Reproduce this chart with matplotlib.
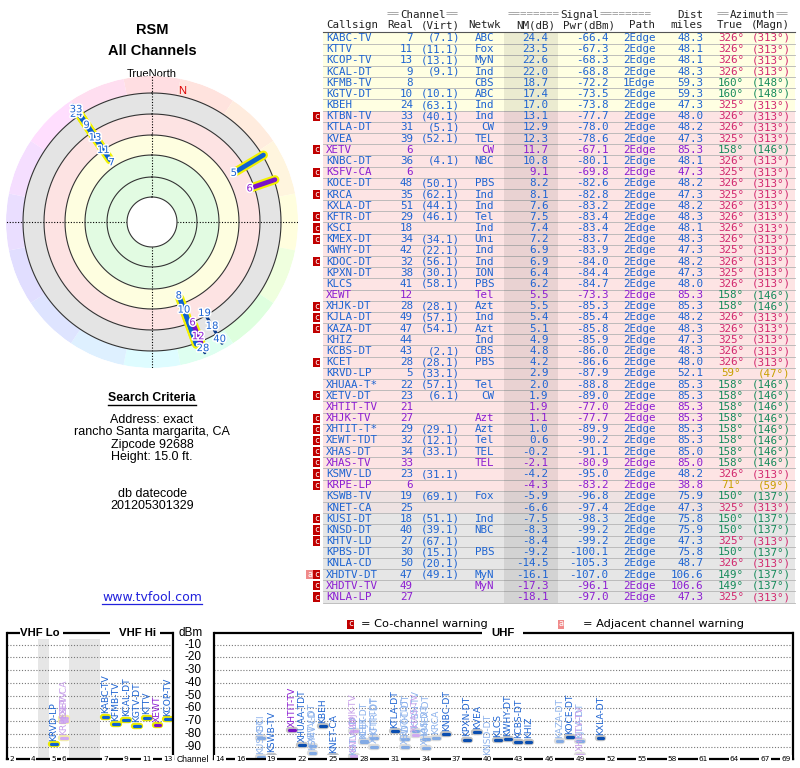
import colorsys
import numpy as np
import matplotlib
matplotlib.use('Agg')
import matplotlib.pyplot as plt
import matplotlib.patheffects as pe
from matplotlib.patches import Rectangle
from matplotlib.transforms import blended_transform_factory

# ---- station table ----
callsigns = ['KABC-TV', 'KTTV', 'KCOP-TV', 'KCAL-DT', 'KFMB-TV', 'KGTV-DT', 'KBEH',
             'KTBN-TV', 'KTLA-DT', 'KVEA', 'XETV', 'KNBC-DT', 'KSFV-CA', 'KOCE-DT',
             'KRCA', 'KXLA-DT', 'KFTR-DT', 'KSCI', 'KMEX-DT', 'KWHY-DT', 'KDOC-DT',
             'KPXN-DT', 'KLCS', 'XEWT', 'XHJK-DT', 'KJLA-DT', 'KAZA-DT', 'KHIZ',
             'KCBS-DT', 'KCET', 'KRVD-LP', 'XHUAA-TDT', 'XETV-DT', 'XHTIT-TV',
             'XHJK-TV', 'XHTIT-TDT', 'XEWT-TDT', 'XHAS-DT', 'XHAS-TV', 'KSMV-LD',
             'KRPE-LP', 'KSWB-TV', 'KNET-CA', 'KUSI-DT', 'KNSD-DT', 'KHTV-LD',
             'KPBS-DT', 'KNLA-CD', 'XHDTV-DT', 'XHDTV-TV', 'KNLA-LP']
real_ch = [7, 11, 13, 9, 8, 10, 24, 33, 31, 39, 6, 36, 6, 48, 35, 51, 29, 18, 34, 42,
           32, 38, 41, 12, 28, 49, 47, 44, 43, 28, 5, 22, 23, 21, 27, 29, 32, 34, 33,
           23, 6, 19, 25, 18, 40, 27, 30, 50, 47, 49, 27]
virt_ch = ['7.1', '11.1', '13.1', '9.1', '', '10.1', '63.1', '40.1', '5.1', '52.1', '',
           '4.1', '', '50.1', '62.1', '44.1', '46.1', '', '34.1', '22.1', '56.1', '30.1',
           '58.1', '', '28.1', '57.1', '54.1', '', '2.1', '28.1', '33.1', '57.1', '6.1',
           '', '', '29.1', '12.1', '33.1', '', '31.1', '', '69.1', '', '51.1', '39.1',
           '67.1', '15.1', '20.1', '49.1', '', '']
networks = ['ABC', 'Fox', 'MyN', 'Ind', 'CBS', 'ABC', 'Ind', 'Ind', 'CW', 'TEL', 'CW',
            'NBC', '', 'PBS', 'Ind', 'Ind', 'Tel', 'Ind', 'Uni', 'Ind', 'Ind', 'ION',
            'PBS', 'Tel', 'Azt', 'Ind', 'Azt', 'Ind', 'CBS', 'PBS', '', 'Tel', 'CW', '',
            'Azt', 'Azt', 'Tel', 'TEL', 'TEL', '', '', 'Fox', '', 'Ind', 'NBC', '', 'PBS',
            '', 'MyN', 'MyN', '']
nm_db = [24.4, 23.5, 22.6, 22.0, 18.7, 17.4, 17.0, 13.1, 12.9, 12.3, 11.7, 10.8, 9.1,
         8.2, 8.1, 7.6, 7.5, 7.4, 7.2, 6.9, 6.9, 6.4, 6.2, 5.5, 5.5, 5.4, 5.1, 4.9, 4.8,
         4.2, 2.9, 2.0, 1.9, 1.9, 1.1, 1.0, 0.6, -0.2, -2.1, -4.2, -4.3, -5.9, -6.6,
         -7.5, -8.3, -8.4, -9.2, -14.5, -16.1, -17.3, -18.1]
pwr_dbm = [-66.4, -67.3, -68.3, -68.8, -72.2, -73.5, -73.8, -77.7, -78.0, -78.6, -67.1,
           -80.1, -69.8, -82.6, -82.8, -83.2, -83.4, -83.4, -83.7, -83.9, -84.0, -84.4,
           -84.7, -73.3, -85.3, -85.4, -85.8, -85.9, -86.0, -86.6, -87.9, -88.8, -89.0,
           -77.0, -77.7, -89.9, -90.2, -91.1, -80.9, -95.0, -83.2, -96.8, -97.4, -98.3,
           -99.2, -99.2, -100.1, -105.3, -107.0, -96.1, -97.0]
paths = ['2Edge'] * 4 + ['1Edge'] + ['2Edge'] * 46
dist_mi = [48.3, 48.1, 48.1, 48.3, 59.3, 59.3, 47.3, 48.0, 48.2, 47.3, 85.3, 48.1, 47.3,
           48.2, 47.3, 48.2, 48.3, 48.1, 48.3, 47.3, 48.2, 47.3, 48.0, 85.3, 85.3, 48.2,
           48.3, 47.3, 48.3, 48.0, 52.1, 85.3, 85.3, 85.3, 85.3, 85.3, 85.3, 85.0, 85.0,
           48.2, 38.8, 75.9, 47.3, 75.8, 75.9, 47.3, 75.8, 48.7, 106.6, 106.6, 47.3]
az_true = [326, 326, 326, 326, 160, 160, 325, 326, 326, 325, 158, 326, 325, 326, 325,
           326, 326, 326, 326, 325, 326, 325, 326, 158, 158, 326, 326, 325, 326, 326, 59,
           158, 158, 158, 158, 158, 158, 158, 158, 326, 71, 150, 325, 150, 150, 325, 150,
           326, 149, 149, 325]
az_magn = [313, 313, 313, 313, 148, 148, 313, 313, 313, 313, 146, 313, 313, 313, 313,
           313, 313, 313, 313, 313, 313, 313, 313, 146, 146, 313, 313, 313, 313, 313, 47,
           146, 146, 146, 146, 146, 146, 146, 146, 313, 59, 137, 313, 137, 137, 313, 137,
           313, 137, 137, 313]
analog_calls = ['XETV', 'KSFV-CA', 'XEWT', 'XHTIT-TV', 'XHJK-TV', 'XHAS-TV', 'KRPE-LP',
                'XHDTV-TV', 'KNLA-LP']
cochannel_calls = ['KTBN-TV', 'XETV', 'KSFV-CA', 'KRCA', 'KFTR-DT', 'KSCI', 'KMEX-DT',
                   'KDOC-DT', 'XHJK-DT', 'KJLA-DT', 'KAZA-DT', 'KCET', 'XETV-DT',
                   'XHJK-TV', 'XHTIT-TDT', 'XEWT-TDT', 'XHAS-DT', 'XHAS-TV', 'KSMV-LD',
                   'KRPE-LP', 'KUSI-DT', 'KNSD-DT', 'KHTV-LD', 'XHDTV-DT', 'XHDTV-TV',
                   'KNLA-LP']
adjacent_calls = ['XHDTV-DT']

vhf_ticks = [2, 4, 5, 6, 7, 9, 11, 13]
uhf_ticks = [14, 16, 19, 22, 25, 28, 31, 34, 37, 40, 43, 46, 49, 52, 55, 58, 61, 64, 67, 69]
dbm_ticks = [-10, -20, -30, -40, -50, -60, -70, -80, -90]

n = len(callsigns)
for arr in (real_ch, virt_ch, networks, nm_db, pwr_dbm, paths, dist_mi, az_true, az_magn):
    assert len(arr) == n

BLUE = '#1e64d2'
PURPLE = '#8c1ed2'
MONO = 'DejaVu Sans Mono'
ARIAL = 'Liberation Sans'


def text_color(i):
    return PURPLE if callsigns[i] in analog_calls else BLUE


def az_color(a):
    if a > 300:
        return '#d2286e'
    if a > 100:
        return '#148a5a'
    return '#c8a000'


def row_bg(v):
    if v >= 15:
        return '#ffffe2'
    if v > -5:
        return '#fde4e4'
    if v > -7:
        return '#eee2e2'
    return '#e6e6e6'


fig = plt.figure(figsize=(8, 7.68), dpi=100)
bg = fig.add_axes([0, 0, 1, 1])
bg.set_xlim(0, 800)
bg.set_ylim(768, 0)
bg.axis('off')

# ---- left panel texts ----
bg.text(152, 29.5, 'RSM', ha='center', va='center', fontsize=10.5, fontweight='bold', family=ARIAL)
bg.text(152, 51, 'All Channels', ha='center', va='center', fontsize=10.5, fontweight='bold', family=ARIAL)
bg.text(152, 74, 'TrueNorth', ha='center', va='center', fontsize=8, family=ARIAL)

bg.text(152, 398, 'Search Criteria', ha='center', va='center', fontsize=8.8, fontweight='bold', family=ARIAL)
bg.plot([108, 196], [405, 405], color='black', lw=1)
criteria = ['Address: exact', 'rancho Santa margarita, CA', 'Zipcode 92688', 'Height: 15.0 ft.']
for k, line in enumerate(criteria):
    bg.text(152, 420 + k * 12.3, line, ha='center', va='center', fontsize=9, family=ARIAL)
bg.text(152, 494, 'db datecode', ha='center', va='center', fontsize=9, family=ARIAL)
bg.text(152, 506, '201205301329', ha='center', va='center', fontsize=9, family=ARIAL)
bg.text(152, 597.5, 'www.tvfool.com', ha='center', va='center', fontsize=9, color='#2222dd')
bg.plot([102, 202], [604, 604], color='#2222dd', lw=0.9)

# ---- table ----
FS = 7.8
ADV = FS * 100 / 72 * 0.602
Y0, PITCH = 38.0, 11.18
X_LEFT, X_RIGHT = 323, 795


def htext(x, y, s, ha='left', color='#222222'):
    bg.text(x, y, s, ha=ha, va='center', fontsize=FS, family=MONO, color=color)


def banner(x, y, word, pad):
    htext(x, y, '=' * pad, color='#9a9a9a')
    htext(x + pad * ADV, y, word)
    htext(x + (pad + len(word)) * ADV, y, '=' * pad, color='#9a9a9a')


banner(387, 14.5, 'Channel', 2)
banner(508, 14.5, 'Signal', 8)
htext(703, 14.5, 'Dist', ha='right')
banner(717, 14.5, 'Azimuth', 2)
htext(326, 25.5, 'Callsign')
htext(413, 25.5, 'Real', ha='right')
htext(460, 25.5, '(Virt)', ha='right')
htext(501, 25.5, 'Netwk', ha='right')
htext(555, 25.5, 'NM(dB)', ha='right')
htext(615, 25.5, 'Pwr(dBm)', ha='right')
htext(655, 25.5, 'Path', ha='right')
htext(703, 25.5, 'miles', ha='right')
htext(717, 25.5, 'True')
htext(790, 25.5, '(Magn)', ha='right')
bg.plot([X_LEFT, X_RIGHT], [31.5, 31.5], color='#555555', lw=0.8)

for i in range(n):
    y = Y0 + i * PITCH
    bg.add_patch(Rectangle((X_LEFT, y - PITCH / 2), X_RIGHT - X_LEFT, PITCH,
                           facecolor=row_bg(nm_db[i]), edgecolor='none', zorder=0))
    bg.plot([X_LEFT, X_RIGHT], [y + PITCH / 2, y + PITCH / 2], color='#b4b4b4', lw=0.6, zorder=0.5)
    c = text_color(i)
    name = callsigns[i] if len(callsigns[i]) <= 8 else callsigns[i][:7] + '*'
    bg.text(326, y, name, ha='left', va='center', fontsize=FS, family=MONO, color=c)
    bg.text(413, y, str(real_ch[i]), ha='right', va='center', fontsize=FS, family=MONO, color=c)
    if virt_ch[i]:
        bg.text(460, y, '(%s)' % virt_ch[i], ha='right', va='center', fontsize=FS, family=MONO, color=c)
    bg.text(494, y, networks[i], ha='right', va='center', fontsize=FS, family=MONO, color=c)
    bg.text(548.5, y, '%.1f' % nm_db[i], ha='right', va='center', fontsize=FS, family=MONO, color=c)
    bg.text(608.5, y, '%.1f' % pwr_dbm[i], ha='right', va='center', fontsize=FS, family=MONO, color=c)
    bg.text(623, y, paths[i], ha='left', va='center', fontsize=FS, family=MONO, color=c)
    bg.text(703.5, y, '%.1f' % dist_mi[i], ha='right', va='center', fontsize=FS, family=MONO, color=c)
    ac = az_color(az_true[i])
    bg.text(731, y, '%d°' % az_true[i], ha='center', va='center', fontsize=FS, family=MONO, color=ac)
    bg.text(790.5, y, '(%d°)' % az_magn[i], ha='right', va='center', fontsize=FS, family=MONO, color=ac)
    if callsigns[i] in cochannel_calls:
        bg.add_patch(Rectangle((313, y - 4.6), 6.6, 9.2, facecolor='#c00000', edgecolor='none'))
        bg.text(316.3, y, 'c', ha='center', va='center', fontsize=6, color='white', family=MONO)
    if callsigns[i] in adjacent_calls:
        bg.add_patch(Rectangle((306.2, y - 4.6), 6.6, 9.2, facecolor='#f08a8a', edgecolor='none'))
        bg.text(309.5, y, 'a', ha='center', va='center', fontsize=6, color='white', family=MONO)

table_bottom = Y0 + (n - 1) * PITCH + PITCH / 2
bg.add_patch(Rectangle((504, 32), 54, table_bottom - 32, facecolor='black', alpha=0.08,
                       edgecolor='none', zorder=0.6))

# ---- polar plot ----
R_OUT = 146
pax = fig.add_axes([6 / 800, (768 - 222 - R_OUT) / 768, 2 * R_OUT / 800, 2 * R_OUT / 768],
                   projection='polar')
pax.set_theta_zero_location('N')
pax.set_theta_direction(-1)
pax.set_ylim(0, R_OUT)
pax.set_xticks([])
pax.set_yticks([])
pax.grid(False)
pax.spines['polar'].set_visible(False)
pax.patch.set_alpha(0)

sector_az = np.arange(16) * 22.5
hues = np.interp(sector_az, [0, 45, 90, 135, 180, 225, 270, 315, 360],
                 [-8, 25, 58, 120, 185, 228, 262, 302, 352]) % 360
ring_cols = [colorsys.hsv_to_rgb(h / 360, 0.13, 1.0) for h in hues]
pax.bar(np.radians(sector_az), R_OUT - 129, width=2 * np.pi / 16, bottom=129,
        color=ring_cols, linewidth=0)
bands = [(25, 67, '#e2fbe2'), (67, 87, '#fefee0'), (87, 108, '#fde3e3'), (108, 129, '#e4e4e4')]
for r1, r2, col in bands:
    pax.bar(0, r2 - r1, width=2 * np.pi, bottom=r1, color=col, linewidth=0)

for a in (0, 90, 180, 270):
    pax.plot([np.radians(a)] * 2, [0, R_OUT], color='black', lw=0.8, ls=(0, (1, 1.5)))
pax.bar(0, 25, width=2 * np.pi, bottom=0, color='white', linewidth=0, zorder=2.2)
full = np.linspace(0, 2 * np.pi, 361)
for r in (25, 45, 67, 87, 108, 129):
    pax.plot(full, np.full_like(full, r), color='#333333', lw=0.8, zorder=2.3)
pax.text(np.radians(13), 134, 'N', color='#dd0000', fontsize=8, ha='center', va='center',
         family=ARIAL, zorder=3)

buckets = {}
for i in range(n):
    buckets.setdefault(int(round(az_true[i] / 5.0)) * 5, []).append(i)
placed = []
for b, idxs in buckets.items():
    idxs = sorted(idxs, key=lambda k: -nm_db[k])
    r0 = 98.6 - 1.09 * nm_db[idxs[0]]
    for k, i in enumerate(idxs):
        r = min(r0 + 15 * k, 136)
        placed.append((i, r))
        if r >= 134:
            break


def mark_span(i, r):
    if real_ch[i] <= 13:
        return [r + 3, min(max(r + 10, 130), 139)]
    return [r + 5, min(r + 9, 140)]


for i, r in placed:
    if real_ch[i] <= 13:
        th = np.radians(az_true[i])
        pax.plot([th, th], mark_span(i, r), color='#f2f200', lw=6.5, solid_capstyle='round', zorder=4)
for i, r in placed:
    th = np.radians(az_true[i])
    if real_ch[i] <= 13:
        core = '#7a12c8' if callsigns[i] in analog_calls else '#0f62d0'
        pax.plot([th, th], mark_span(i, r), color=core, lw=3.4, solid_capstyle='round', zorder=4.5)
    else:
        core = '#6a10b0' if callsigns[i] in analog_calls else '#0a3a8a'
        pax.plot([th, th], mark_span(i, r), color=core, lw=2.2, solid_capstyle='round', zorder=4.5)
for i, r in placed:
    pax.text(np.radians(az_true[i]), r, str(real_ch[i]), color=text_color(i), fontsize=7.2,
             ha='center', va='center', zorder=6,
             path_effects=[pe.withStroke(linewidth=2.2, foreground='white')])

# ---- spectrum charts ----
Y_TOP, Y_BOT = 633, 759
ax_h = (Y_BOT - Y_TOP) / 768
ax_b = (768 - Y_BOT) / 768
vax = fig.add_axes([7 / 800, ax_b, (173 - 7) / 800, ax_h])
uax = fig.add_axes([214 / 800, ax_b, (793 - 214) / 800, ax_h])
vax.set_xlim(0, 16)
uax.set_xlim(13.42, 69.7)


def vhf_slot(ch):
    if ch <= 4:
        return ch - 1.5
    if ch <= 6:
        return ch - 0.5
    return ch + 2.5


for ax in (vax, uax):
    ax.set_ylim(-99.5, -1)
    ax.set_xticks([])
    ax.set_yticks([])
    ax.patch.set_alpha(0)
    for s in ax.spines.values():
        s.set_linewidth(1.6)
    ax.spines['top'].set_visible(False)
    for d in dbm_ticks:
        ax.axhline(d, color='#777777', lw=0.8, ls=(0, (1, 1.6)), zorder=0.5)
# gaps in the VHF band (72-76 MHz and the FM band), shaded below the title line
vax.axvspan(3, 4, ymax=0.955, color='#e6e6e6', lw=0, zorder=0.2)
vax.axvspan(6, 9, ymax=0.955, color='#e6e6e6', lw=0, zorder=0.2)

# top borders, broken where the band titles sit
for x1, x2 in [(6.5, 20), (63, 110), (160, 173.5), (213.5, 482), (523, 793.5)]:
    bg.plot([x1, x2], [633.3, 633.3], color='black', lw=1.6, solid_capstyle='butt')
bg.text(39.5, 633, 'VHF Lo', ha='center', va='center', fontsize=8.2, fontweight='bold', family=ARIAL)
bg.text(137.5, 633, 'VHF Hi', ha='center', va='center', fontsize=8.2, fontweight='bold', family=ARIAL)
bg.text(502.5, 633, 'UHF', ha='center', va='center', fontsize=8.2, fontweight='bold', family=ARIAL)

tick_box = dict(facecolor='white', edgecolor='none', pad=0.8)
for ch in vhf_ticks:
    vax.text(vhf_slot(ch), 0, str(ch), transform=blended_transform_factory(vax.transData, vax.transAxes),
             ha='center', va='center', fontsize=5.3, bbox=tick_box, zorder=5, clip_on=False)
for ch in uhf_ticks:
    uax.text(ch, 0, str(ch), transform=blended_transform_factory(uax.transData, uax.transAxes),
             ha='center', va='center', fontsize=5.3, bbox=tick_box, zorder=5, clip_on=False)

mix = blended_transform_factory(bg.transData, vax.transData)
for d in dbm_ticks:
    bg.text(193, d, str(d), transform=mix, ha='center', va='center', fontsize=8.5, family=ARIAL)
bg.text(191, 633, 'dBm', ha='center', va='center', fontsize=8.5, family=ARIAL)
bg.text(192.5, 759, 'Channel', ha='center', va='center', fontsize=6.2, family=ARIAL)

for i in range(n):
    p = pwr_dbm[i]
    if p < -99.5:
        continue
    is_analog = callsigns[i] in analog_calls
    faded = callsigns[i] in cochannel_calls
    vhf = real_ch[i] <= 13
    ax = vax if vhf else uax
    x = vhf_slot(real_ch[i]) if vhf else real_ch[i]
    if is_analog:
        core = '#d0aaf0' if faded else '#7a12c8'
        tcol = '#c8a0ea' if faded else PURPLE
    else:
        core = '#82aae4' if faded else ('#0f62d0' if vhf else '#0a4eb0')
        tcol = '#8cb2ec' if faded else BLUE
    if vhf:
        halo = '#f4eeaa' if faded else '#ecec00'
    else:
        halo = '#dddddd' if faded else '#c4c4c4'
    ax.plot([x - 0.28, x + 0.28], [p, p], color=halo, lw=4.6, solid_capstyle='round', zorder=2)
    ax.plot([x - 0.28, x + 0.28], [p, p], color=core, lw=2.3, solid_capstyle='round', zorder=2.1)
    ax.text(x, p + 2.6, callsigns[i], rotation=90, ha='center', va='bottom', fontsize=6.6,
            color=tcol, zorder=3)

# warning legend
bg.add_patch(Rectangle((347, 619.5), 6.6, 9.5, facecolor='#c00000', edgecolor='none'))
bg.text(350.3, 624, 'c', ha='center', va='center', fontsize=6, color='white', family=MONO)
bg.text(361, 624, '= Co-channel warning', ha='left', va='center', fontsize=8.2)
bg.add_patch(Rectangle((557.5, 619.5), 6.6, 9.5, facecolor='#f08a8a', edgecolor='none'))
bg.text(560.8, 624, 'a', ha='center', va='center', fontsize=6, color='white', family=MONO)
bg.text(583, 624, '= Adjacent channel warning', ha='left', va='center', fontsize=8.2)

fig.savefig('out.png', dpi=100)
